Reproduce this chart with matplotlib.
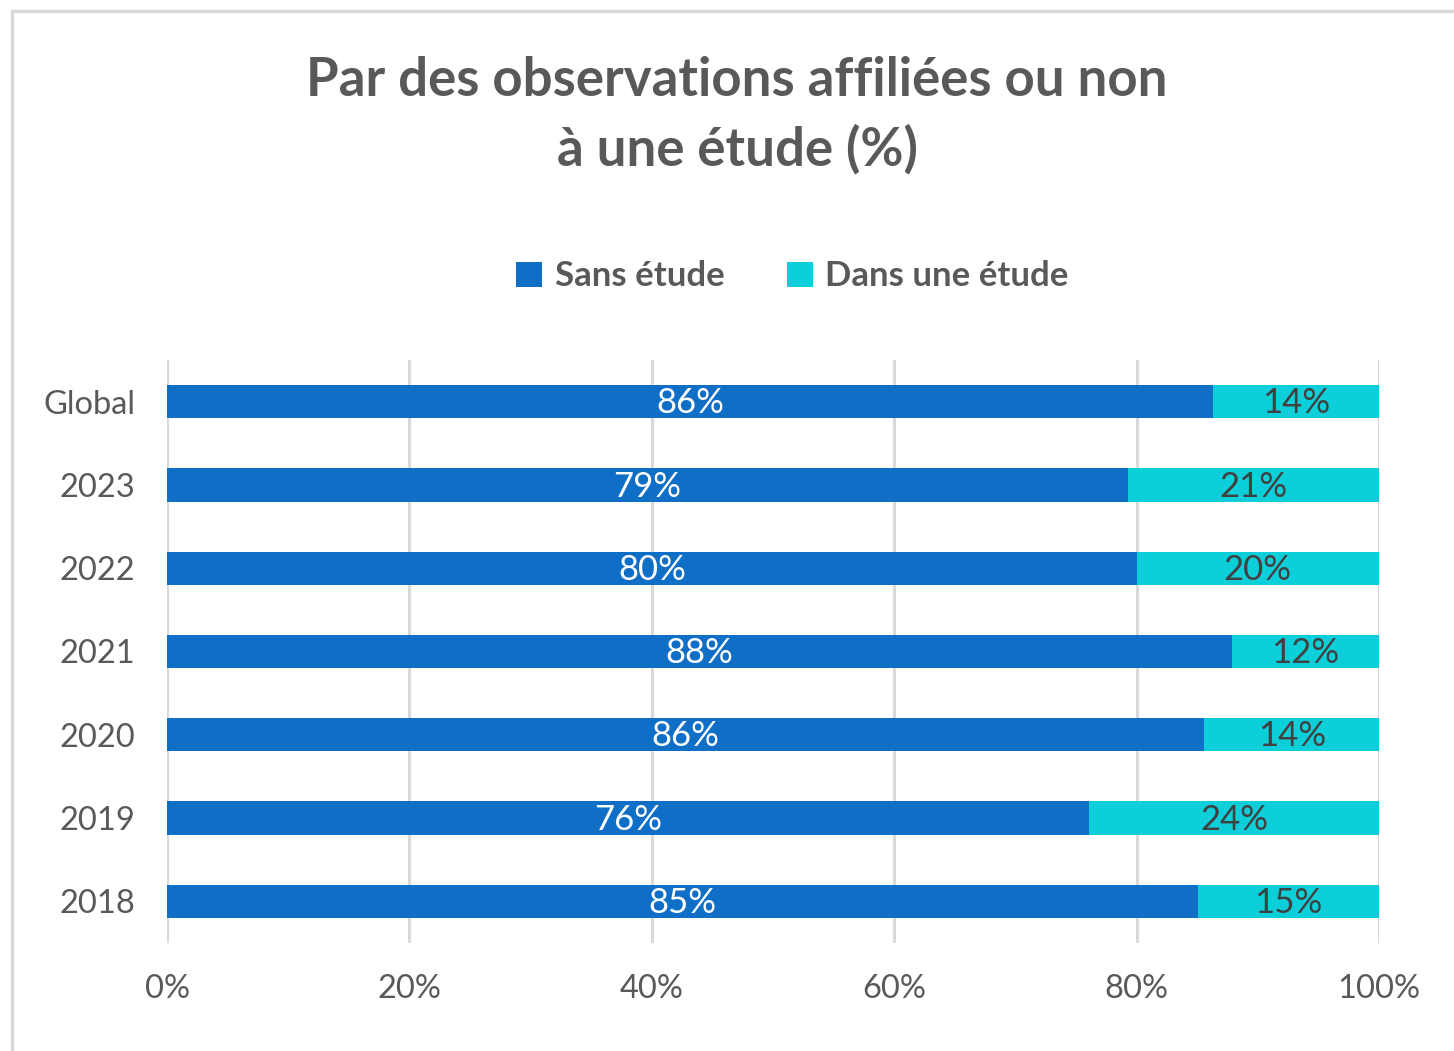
import matplotlib.pyplot as plt
from matplotlib.patches import Rectangle

plt.rcParams['font.family'] = ['Lato', 'DejaVu Sans']

categories = ['Global', '2023', '2022', '2021', '2020', '2019', '2018']
sans_etude = [86.3, 79.3, 80.0, 87.9, 85.6, 76.1, 85.1]
dans_etude = [100 - v for v in sans_etude]
x_ticks = [0, 20, 40, 60, 80, 100]

blue = '#0F6FC6'
cyan = '#0DCFDA'
grey = '#595959'

fig = plt.figure(figsize=(14.54, 10.51), dpi=100)
ax = fig.add_axes([0.1149, 0.1028, 0.8335, 0.5547])

# light border of the chart area
fig.patches.append(Rectangle((0.0085, -0.05), 1.2, 1.04, transform=fig.transFigure,
                             fill=False, edgecolor='#d9d9d9', linewidth=2.5))

y = range(len(categories))
b1 = ax.barh(y, sans_etude, height=0.4, color=blue, label='Sans étude', zorder=3)
b2 = ax.barh(y, dans_etude, left=sans_etude, height=0.4, color=cyan,
             label='Dans une étude', zorder=3)

for i in y:
    ax.text(sans_etude[i] / 2, i + 0.02, f'{round(sans_etude[i])}%', ha='center', va='center',
            color='white', fontsize=25, zorder=4)
    ax.text(sans_etude[i] + dans_etude[i] / 2, i + 0.02, f'{round(dans_etude[i])}%', ha='center',
            va='center', color='#404040', fontsize=25, zorder=4)

ax.set_xlim(0, 100)
ax.set_ylim(len(categories) - 0.5, -0.5)
ax.set_xticks(x_ticks)
ax.set_xticklabels([f'{t}%' for t in x_ticks])
ax.set_yticks(list(y))
ax.set_yticklabels(categories)
ax.tick_params(axis='both', length=0, labelsize=23.5, labelcolor=grey)
ax.tick_params(axis='x', pad=22)
ax.tick_params(axis='y', pad=23)
ax.grid(axis='x', color='#d9d9d9', linewidth=2.2, zorder=0)
for s in ax.spines.values():
    s.set_visible(False)

fig.text(0.507, 0.923, 'Par des observations affiliées ou non', ha='center', va='center',
         fontsize=38, fontweight='bold', color=grey)
fig.text(0.507, 0.858, 'à une étude (%)', ha='center', va='center',
         fontsize=38, fontweight='bold', color=grey)

fig.legend(handles=[b1, b2], loc='center', bbox_to_anchor=(0.545, 0.737), ncol=2,
           frameon=False, prop={'weight': 'bold', 'size': 25},
           handlelength=0.75, handleheight=0.75, handletextpad=0.35, columnspacing=1.8,
           labelcolor=grey)

fig.savefig('out.png', dpi=100)
